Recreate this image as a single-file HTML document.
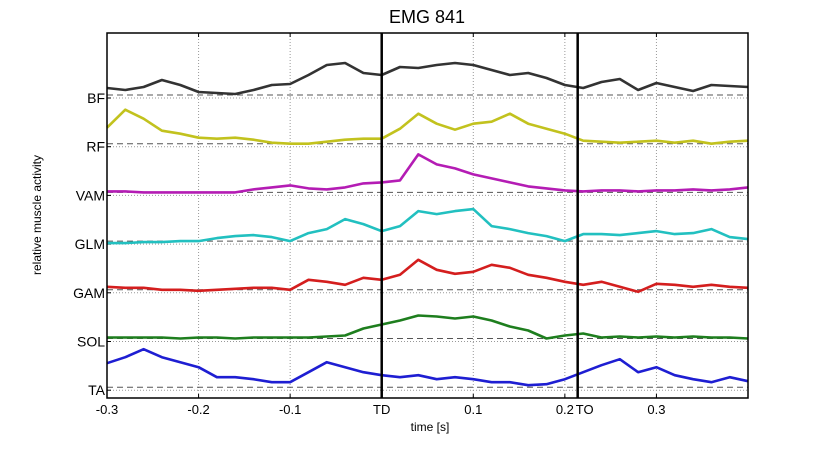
<!DOCTYPE html>
<html><head><meta charset="utf-8"><style>
body{margin:0;background:#fff;}
svg text{font-family:"Liberation Sans",Arial,sans-serif;}
</style></head><body>
<svg id="c" width="828" height="449"></svg>
<script>
const xTicks=[-0.3,-0.2,-0.1,0,0.1,0.2,0.3];
const xTickLabels=["-0.3","-0.2","-0.1","TD","0.1","0.2","0.3"];
const eventTimes=[0,0.214];
const eventLabels=["TD","TO"];
const muscles=["BF","RF","VAM","GLM","GAM","SOL","TA"];
const colors=["#333333","#c2c21e","#b41cb4","#22c0c0","#d41e1e","#1e7e1e","#1e1ed2"];
const bfVals=[7,5,8,15,10,3,2,1,5,10,11,20,30,32,22,20,28,27,30,32,30,25,20,22,17,10,7,13,16,5,12,8,4,10,9,8];
const rfVals=[16,34,25,13,10,6,5,6,4,1,0,0,2,4,5,5,15,30,20,14,20,22,30,20,15,10,3,2,1,2,3,1,3,0,2,3];
const vamVals=[1,1,0,0,0,0,0,0,3,5,7,4,3,5,9,10,12,38,28,24,18,14,10,6,4,2,1,2,2,1,2,2,3,2,3,5];
const glmVals=[-2,-2,-1,-1,0,0,3,5,6,4,0,8,12,22,17,10,15,30,27,30,32,15,12,8,5,0,7,7,6,8,10,7,8,12,4,2];
const gamVals=[3,2,2,0,0,-1,0,1,2,2,0,10,8,5,12,10,15,30,20,16,18,25,22,15,12,8,5,8,3,-2,6,5,3,5,3,2];
const solVals=[1,1,1,1,0,1,1,0,1,1,1,1,2,3,10,14,18,23,22,20,22,18,12,8,0,3,5,1,2,1,2,1,2,1,1,0];
const taVals=[24,30,38,30,25,20,10,10,8,5,5,15,25,20,15,12,10,12,8,10,8,5,5,2,3,8,15,22,28,15,20,12,8,5,10,6];
const series=[bfVals,rfVals,vamVals,glmVals,gamVals,solVals,taVals];
const t0=-0.3,dt=0.02;
const L=107,R=748,T=33,B=398;
const xs=v=>L+(v-(-0.3))/(0.7)*(R-L);
const base=i=>95+i*48.7;
const NS="http://www.w3.org/2000/svg";
const svg=document.getElementById('c');
function mk(tag,attrs,parent){const e=document.createElementNS(NS,tag);for(const k in attrs)e.setAttribute(k,attrs[k]);(parent||svg).appendChild(e);return e;}
let e=mk('text',{x:427,y:23,'font-size':18,'text-anchor':'middle'});e.textContent="EMG 841";

xTicks.forEach((v,i)=>{if(v===0)return;const g=mk('line',{x1:xs(v),x2:xs(v),y1:T,y2:B,stroke:'#999','stroke-dasharray':'1,2','stroke-width':1});
});
muscles.forEach((m,i)=>{const y=base(i);
const g=mk('line',{x1:L,x2:R,y1:y+3,y2:y+3,stroke:'#999','stroke-dasharray':'1,2'});

const d=mk('line',{x1:L,x2:R,y1:y,y2:y,stroke:'#555','stroke-dasharray':'6,4','stroke-width':1});

const tk=mk('line',{x1:L,x2:L+4,y1:y+3,y2:y+3,stroke:'#000'});

const tx=mk('text',{x:L-2,y:y+8,'font-size':14,'text-anchor':'end'});tx.textContent=m;
});
series.forEach((vals,i)=>{const y0=base(i);let d='';vals.forEach((v,j)=>{d+=(j?'L':'M')+xs(t0+j*dt).toFixed(1)+','+(y0-v).toFixed(1);});
const p=mk('path',{d:d,fill:'none',stroke:colors[i],'stroke-width':2.6,'stroke-linejoin':'round'});
});
eventTimes.forEach((v,i)=>{const l=mk('line',{x1:xs(v),x2:xs(v),y1:T,y2:B,stroke:'#000','stroke-width':2.5});
});
const f=mk('rect',{x:L,y:T,width:R-L,height:B-T,fill:'none',stroke:'#000','stroke-width':1.5});

xTicks.forEach((v,i)=>{const x=xs(v);
const tk=mk('line',{x1:x,x2:x,y1:B,y2:B-4,stroke:'#000'});
const tk2=mk('line',{x1:x,x2:x,y1:T,y2:T+4,stroke:'#000'});
const tx=mk('text',{x:x,y:B+16,'font-size':13,'text-anchor':'middle'});tx.textContent=xTickLabels[i];
});
const to=mk('text',{x:xs(eventTimes[1])+7,y:B+16,'font-size':13,'text-anchor':'middle'});to.textContent="TO";

const xt=mk('text',{x:430,y:431,'font-size':12,'text-anchor':'middle'});xt.textContent="time [s]";

const yt=mk('text',{x:0,y:0,'font-size':12,'text-anchor':'middle',transform:'translate(41,215) rotate(-90)'});yt.textContent="relative muscle activity";

</script>
</body></html>
